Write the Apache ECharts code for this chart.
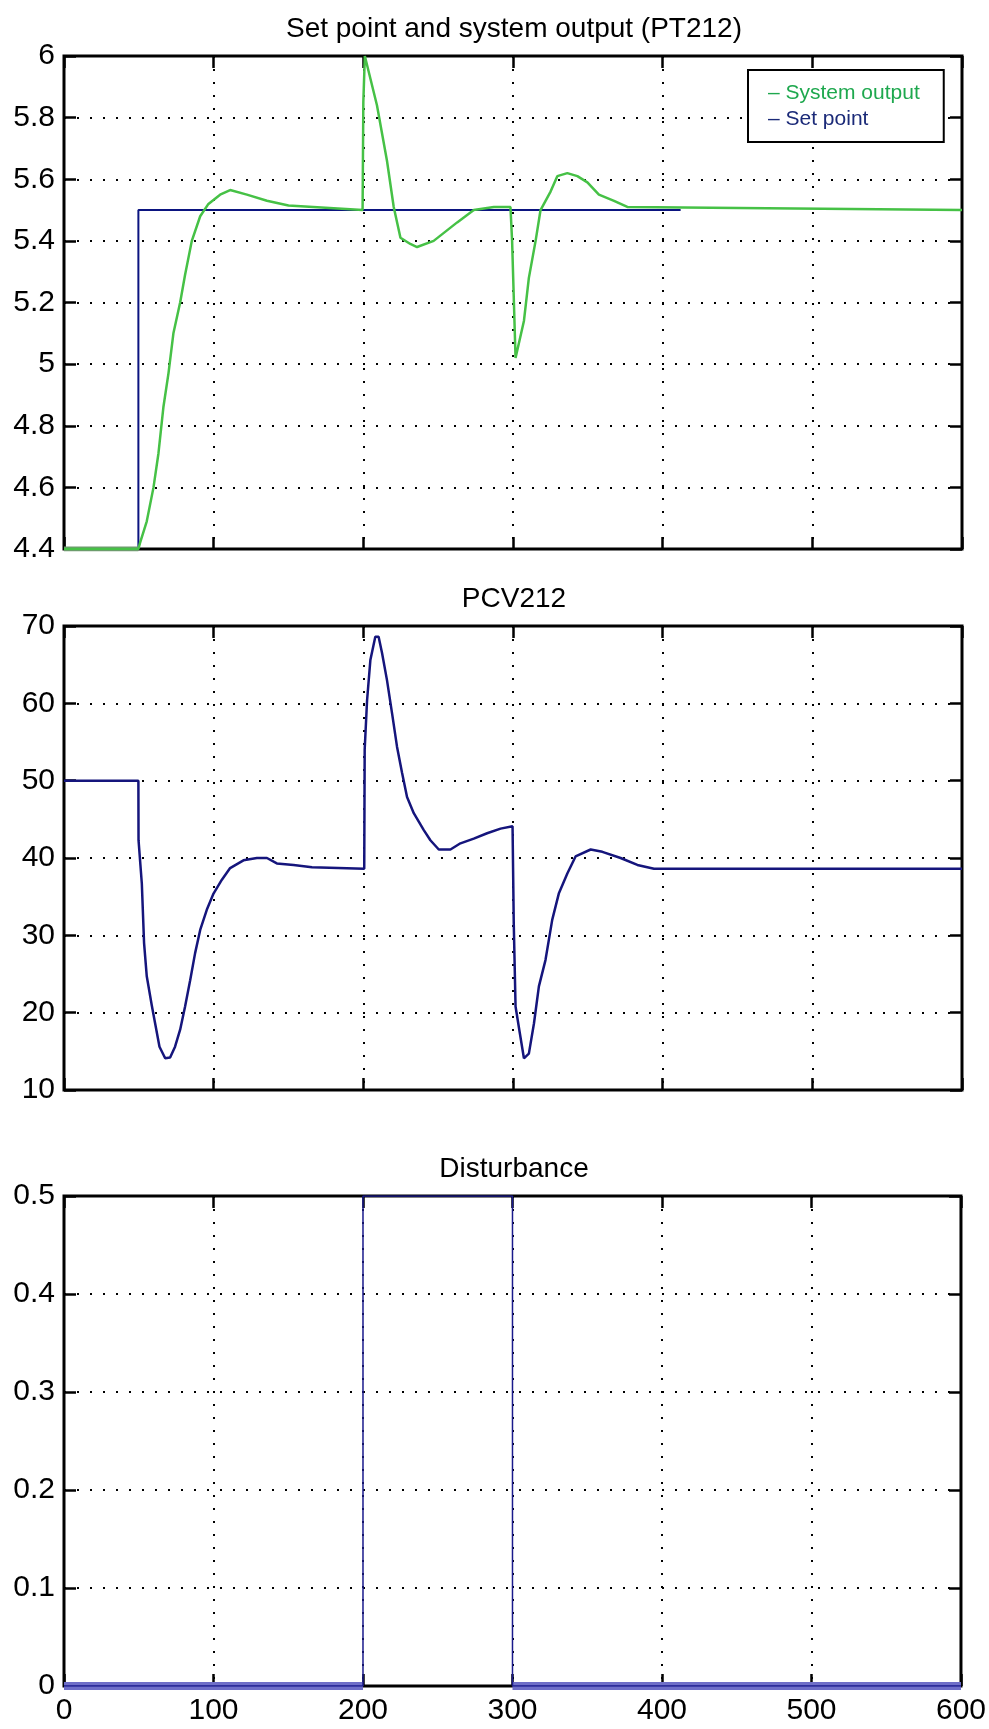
<!DOCTYPE html>
<html>
<head>
<meta charset="utf-8">
<script src="https://cdn.jsdelivr.net/npm/echarts@6/dist/echarts.min.js"></script>
<style>
  html, body { margin: 0; padding: 0; background: #fff; }
  #chart { width: 989px; height: 1729px; }
</style>
</head>
<body>
<div id="chart"></div>
<script>
// time axis (s) and values
const tSys = [0, 49.7, 50.8, 55.3, 59.8, 63.1, 66.4, 69.8, 73.1, 77.6, 80.9, 85.4, 91.0, 96.5, 104.3, 111.0, 122.2, 135.6, 150, 199.5,
  200, 201, 209.1, 215.8, 220.3, 224.8, 231.4, 235.9, 247.0, 262.7, 273.8, 287.2, 298.3, 299.4, 301.7, 307.3, 310.6, 315.1, 318.4, 325.1,
  329.6, 336.3, 343.0, 349.7, 357.4, 367.5, 376.4, 600]
const systemOutput = [4.4, 4.4, 4.42, 4.49, 4.60, 4.71, 4.86, 4.97, 5.10, 5.20, 5.29, 5.40, 5.48, 5.52, 5.55, 5.565, 5.55, 5.53, 5.515, 5.5,
  5.85, 6.0, 5.84, 5.66, 5.51, 5.41, 5.39, 5.38, 5.40, 5.46, 5.50, 5.51, 5.51, 5.40, 5.02, 5.14, 5.28, 5.40, 5.50, 5.56,
  5.61, 5.62, 5.61, 5.59, 5.55, 5.53, 5.51, 5.5]

const tSet = [0, 49.7, 49.7, 412]
const setPoint = [4.4, 4.4, 5.5, 5.5]

const tPcv = [0, 49.7, 49.8, 52.0, 53.5, 55.3, 58.6, 60.9, 63.8, 67.6, 70.9, 74.2, 77.6, 80.9, 84.3, 87.6, 91.0, 95.4, 99.9, 105.5,
  111.0, 119.9, 128.9, 135.6, 142.2, 153.4, 165.7, 200.6, 200.9, 202.5, 204.7, 208.0, 210.2, 212.5, 215.8, 219.2, 222.5, 225.9, 229.2, 233.7,
  240.4, 244.8, 250.4, 258.2, 264.9, 273.8, 282.7, 291.7, 299.7, 300.5, 301.7, 304.6, 307.3, 310.6, 314.0, 317.3, 321.7, 326.2, 330.6, 336.3,
  341.8, 351.9, 359.7, 371.9, 383.1, 394.2, 600]
const pcv212 = [50, 50, 42.3, 36.7, 29.0, 24.7, 21.0, 18.6, 15.6, 14.1, 14.2, 15.6, 17.8, 20.8, 24.2, 27.7, 30.7, 33.3, 35.4, 37.2,
  38.7, 39.7, 40.0, 40.0, 39.3, 39.1, 38.8, 38.6, 54.0, 60.4, 65.6, 68.6, 68.6, 66.5, 63.0, 58.7, 54.4, 51.0, 47.9, 45.8,
  43.6, 42.3, 41.1, 41.1, 41.9, 42.5, 43.2, 43.8, 44.1, 31.6, 20.8, 17.3, 14.1, 14.7, 18.6, 23.4, 26.8, 32.0, 35.4, 38.0,
  40.2, 41.1, 40.8, 40.0, 39.1, 38.6, 38.6]

const tDist = [0, 200, 200, 300, 300, 600]
const disturbance = [0, 0, 0.5, 0.5, 0, 0]

const titles = ['Set point and system output (PT212)', 'PCV212', 'Disturbance']
const yRanges = [[4.4, 6, 0.2], [10, 70, 10], [0, 0.5, 0.1]]
const xRange = [0, 600, 100]

const FONT = '"Liberation Sans", Arial, sans-serif'
const pairs = (xs, ys) => xs.map((x, i) => [x, ys[i]])

const chart = echarts.init(document.getElementById('chart'), null, { renderer: 'canvas' })

const grids = [
  { left: 64, right: 27, top: 56, height: 493 },
  { left: 64, right: 27, top: 626, height: 464 },
  { left: 64, right: 27, top: 1196, height: 490 }
].map(g => ({ ...g, show: true, borderColor: '#000', borderWidth: 3, backgroundColor: '#fff' }))

const dotted = { show: true, lineStyle: { color: '#000', width: 2, type: [2, 11] } }
const tickIn = { show: true, inside: true, length: 12, lineStyle: { color: '#000', width: 2.5 } }
// onZero off, otherwise the second axis jumps onto the zero line
const noLine = { show: false, onZero: false }
const labelStyle = { color: '#000', fontSize: 30, fontFamily: FONT }

const xAxes = []
const yAxes = []
grids.forEach((g, i) => {
  // bottom + top x axis (MATLAB box with ticks on all sides)
  xAxes.push({
    type: 'value', gridIndex: i, position: 'bottom', min: xRange[0], max: xRange[1], interval: xRange[2],
    axisLine: noLine, axisTick: tickIn, splitLine: dotted,
    axisLabel: { show: i === 2, margin: 10, ...labelStyle }
  })
  xAxes.push({
    type: 'value', gridIndex: i, position: 'top', min: xRange[0], max: xRange[1], interval: xRange[2],
    axisLine: noLine, axisTick: tickIn, splitLine: { show: false }, axisLabel: { show: false }
  })
  const [mn, mx, step] = yRanges[i]
  yAxes.push({
    type: 'value', gridIndex: i, position: 'left', min: mn, max: mx, interval: step,
    axisLine: noLine, axisTick: tickIn, splitLine: dotted,
    axisLabel: { margin: 9, ...labelStyle }
  })
  yAxes.push({
    type: 'value', gridIndex: i, position: 'right', min: mn, max: mx, interval: step,
    axisLine: noLine, axisTick: tickIn, splitLine: { show: false }, axisLabel: { show: false }
  })
})

const line = (name, data, xi, yi, color, width, z) => ({
  name, type: 'line', data, xAxisIndex: xi, yAxisIndex: yi, showSymbol: false, symbol: 'none',
  lineStyle: { color, width }, itemStyle: { color }, z: z || 2, silent: true
})

const option = {
  animation: false,
  backgroundColor: '#fff',
  title: titles.map((t, i) => ({
    text: t, left: 509, textAlign: 'center', top: [10, 580, 1150][i],
    textStyle: { color: '#000', fontSize: 28, fontWeight: 'normal', fontFamily: FONT }
  })),
  legend: {
    orient: 'vertical', left: 748, top: 70, icon: 'none', itemWidth: 0, itemHeight: 20, itemGap: 5,
    padding: [13, 24, 12, 15], backgroundColor: '#fff', borderColor: '#000', borderWidth: 2,
    formatter: '– {name}', textStyle: { fontSize: 21, fontFamily: FONT },
    data: [
      { name: 'System output', textStyle: { color: '#1ea84e' } },
      { name: 'Set point', textStyle: { color: '#1b2a78' } }
    ]
  },
  grid: grids,
  xAxis: xAxes,
  yAxis: yAxes,
  series: [
    line('Set point', pairs(tSet, setPoint), 0, 0, '#0b1480', 2, 3),
    // darker start of the output at the low level
    line('start', pairs(tSys, systemOutput.map((v, i) => tSys[i] <= 50 ? v : null)), 0, 0, '#6f9a6f', 5, 3),
    line('System output', pairs(tSys, systemOutput), 0, 0, '#46c146', 2.5, 4),
    line('PCV212', pairs(tPcv, pcv212), 2, 2, '#15157c', 2.5, 3),
    // lavender band where the disturbance sits at zero
    line('zero', pairs(tDist, disturbance.map(v => v === 0 ? v : null)), 4, 4, '#6e6ec8', 8, 3),
    line('Disturbance', pairs(tDist, disturbance), 4, 4, '#1a1a8c', 1.5, 4)
  ]
}

chart.setOption(option)
</script>
</body>
</html>
